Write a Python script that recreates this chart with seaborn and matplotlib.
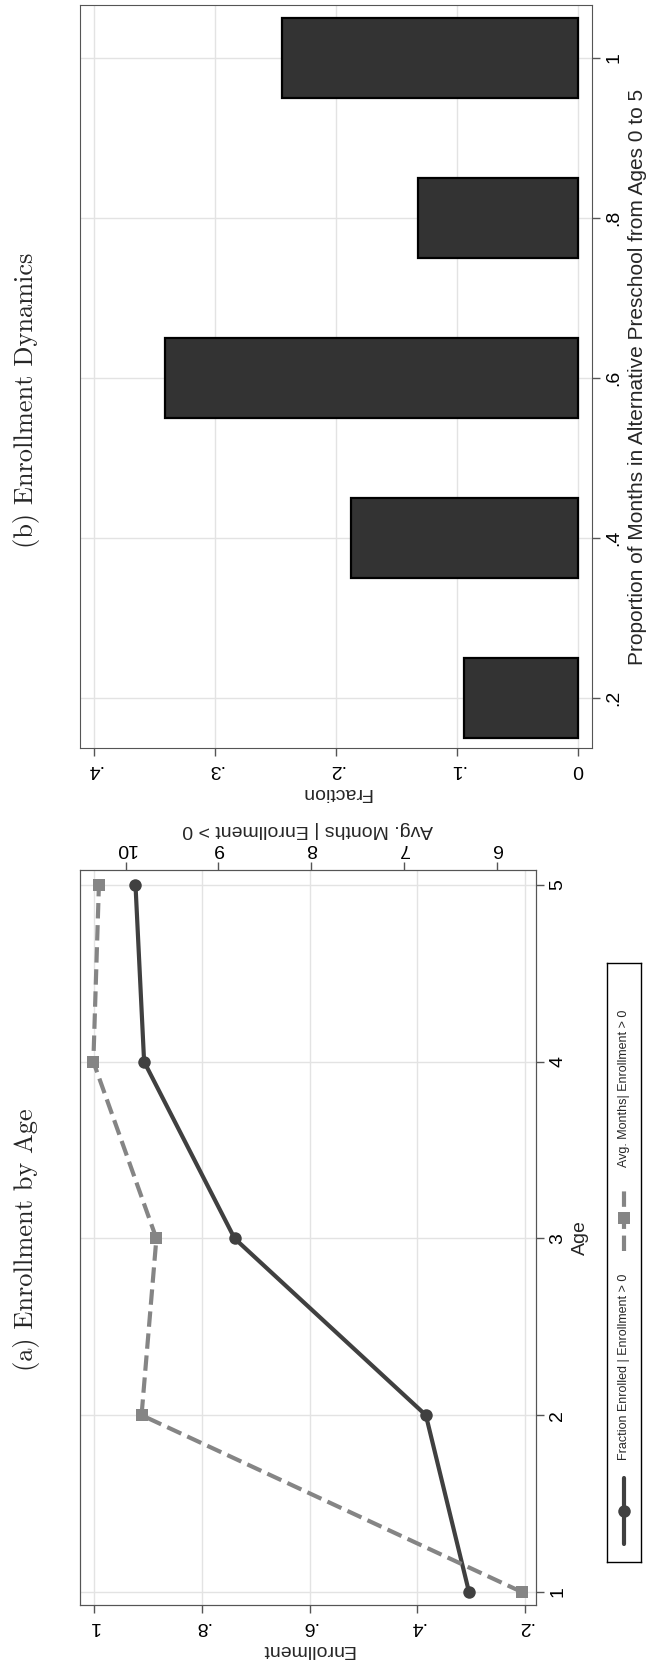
import matplotlib
matplotlib.use('Agg')
import matplotlib.pyplot as plt
import seaborn as sns
import pandas as pd

# panel (a): enrollment by age
ages = [1, 2, 3, 4, 5]
frac_enrolled = [0.304, 0.384, 0.739, 0.907, 0.923]
avg_months = [5.73, 9.83, 9.67, 10.35, 10.29]
enroll_ticks = [0.2, 0.4, 0.6, 0.8, 1.0]
enroll_labels = ['.2', '.4', '.6', '.8', '1']
month_ticks = [6, 7, 8, 9, 10]
legend_labels = ['Fraction Enrolled | Enrollment > 0', 'Avg. Months| Enrollment > 0']

# panel (b): enrollment dynamics
prop_months = [0.2, 0.4, 0.6, 0.8, 1.0]
prop_labels = ['.2', '.4', '.6', '.8', '1']
fraction = [0.094, 0.188, 0.341, 0.132, 0.245]
frac_ticks = [0, 0.1, 0.2, 0.3, 0.4]
frac_labels = ['0', '.1', '.2', '.3', '.4']

W, H = 649, 1671


def box(x0, y0, x1, y1):
    # pixel box (top-left origin) -> figure fraction rect
    return [x0 / W, 1 - y1 / H, (x1 - x0) / W, (y1 - y0) / H]


sns.set_style('white')
plt.rcParams['font.family'] = ['Liberation Sans', 'DejaVu Sans']
plt.rcParams['axes.edgecolor'] = '#555555'
plt.rcParams['xtick.color'] = '#555555'
plt.rcParams['ytick.color'] = '#555555'
plt.rcParams['xtick.labelcolor'] = 'black'
plt.rcParams['ytick.labelcolor'] = 'black'

tick_fs = 14
lab_fs = 14
grid_c = '#e3e3e3'

fig = plt.figure(figsize=(W / 100, H / 100), dpi=100)

# ---- panel (b) ----
axb = fig.add_axes(box(80, 5, 592, 748))
df_b = pd.DataFrame({'prop': prop_months, 'fraction': fraction})
sns.barplot(data=df_b, x='fraction', y='prop', orient='y', native_scale=True,
            width=0.5, color='#333333', saturation=1, edgecolor='black',
            linewidth=1.6, ax=axb, zorder=3)
axb.set_xlim(0.4116, -0.0116)
axb.set_ylim(0.1375, 1.066)
axb.grid(True, color=grid_c, lw=1)
axb.set_axisbelow(True)
axb.set_xticks(frac_ticks, frac_labels, rotation=180, fontsize=tick_fs)
axb.yaxis.tick_right()
axb.yaxis.set_label_position('right')
axb.set_yticks(prop_months, prop_labels, rotation=90, va='center', fontsize=tick_fs)
axb.tick_params(direction='out', length=6, width=1, left=False, bottom=True, right=True)
axb.set_xlabel('Fraction', rotation=180, fontsize=lab_fs)
axb.set_ylabel('Proportion of Months in Alternative Preschool from Ages 0 to 5',
               rotation=90, fontsize=lab_fs + 1)
fig.text(27 / W, 1 - 400 / H, '(b) Enrollment Dynamics', rotation=90,
         family='cmr10', fontsize=19, ha='center', va='center')

# ---- panel (a) ----
axa = fig.add_axes(box(80, 870, 536, 1605))
df_a = pd.DataFrame({'age': ages, 'frac': frac_enrolled, 'months': avg_months})
sns.lineplot(data=df_a, x='frac', y='age', sort=False, estimator=None,
             color='#404040', lw=3, marker='o', markersize=9,
             markeredgewidth=0, ax=axa, zorder=4)
axa.set_xlim(1.026, 0.1796)
axa.set_ylim(0.926, 5.085)
axa.grid(True, color=grid_c, lw=1)
axa.set_axisbelow(True)
axa.set_xticks(enroll_ticks, enroll_labels, rotation=180, fontsize=tick_fs)
axa.yaxis.tick_right()
axa.yaxis.set_label_position('right')
axa.set_yticks(ages, [str(a) for a in ages], rotation=90, va='center', fontsize=tick_fs)
axa.tick_params(direction='out', length=6, width=1, left=False, right=True, bottom=True)
axa.set_xlabel('Enrollment', rotation=180, fontsize=lab_fs)
axa.set_ylabel('Age', rotation=90, fontsize=lab_fs)

axa2 = axa.twiny()
sns.lineplot(data=df_a, x='months', y='age', sort=False, estimator=None,
             color='#858585', lw=3, ls='--', marker='s', markersize=8,
             markeredgewidth=0, ax=axa2, zorder=3)
axa2.set_xlim(10.494, 5.575)
axa2.set_xticks(month_ticks, [str(m) for m in month_ticks], rotation=180, fontsize=tick_fs)
axa2.tick_params(direction='out', length=6, width=1)
axa2.set_xlabel('Avg. Months | Enrollment > 0', rotation=180, fontsize=lab_fs)
axa2.set_zorder(axa.get_zorder() + 1)
axa2.patch.set_visible(False)

fig.text(27 / W, 1 - 1240 / H, '(a) Enrollment by Age', rotation=90,
         family='cmr10', fontsize=19, ha='center', va='center')

# ---- legend (drawn rotated by hand) ----
axl = fig.add_axes(box(607, 963, 641, 1562))
axl.set_xlim(0, 1)
axl.set_ylim(0, 1)
axl.set_xticks([])
axl.set_yticks([])
for s in axl.spines.values():
    s.set_color('black')
    s.set_linewidth(1)
axl.plot([0.5, 0.5], [0.03, 0.14], color='#404040', lw=3)
axl.plot([0.5], [0.085], color='#404040', marker='o', markersize=9, markeredgewidth=0)
axl.text(0.5, 0.17, legend_labels[0], rotation=90, ha='center', va='bottom', fontsize=9)
axl.plot([0.5, 0.5], [0.52, 0.63], color='#858585', lw=3, ls='--')
axl.plot([0.5], [0.575], color='#858585', marker='s', markersize=8, markeredgewidth=0)
axl.text(0.5, 0.66, legend_labels[1], rotation=90, ha='center', va='bottom', fontsize=9)

fig.savefig('out.png', dpi=100, facecolor='white')
